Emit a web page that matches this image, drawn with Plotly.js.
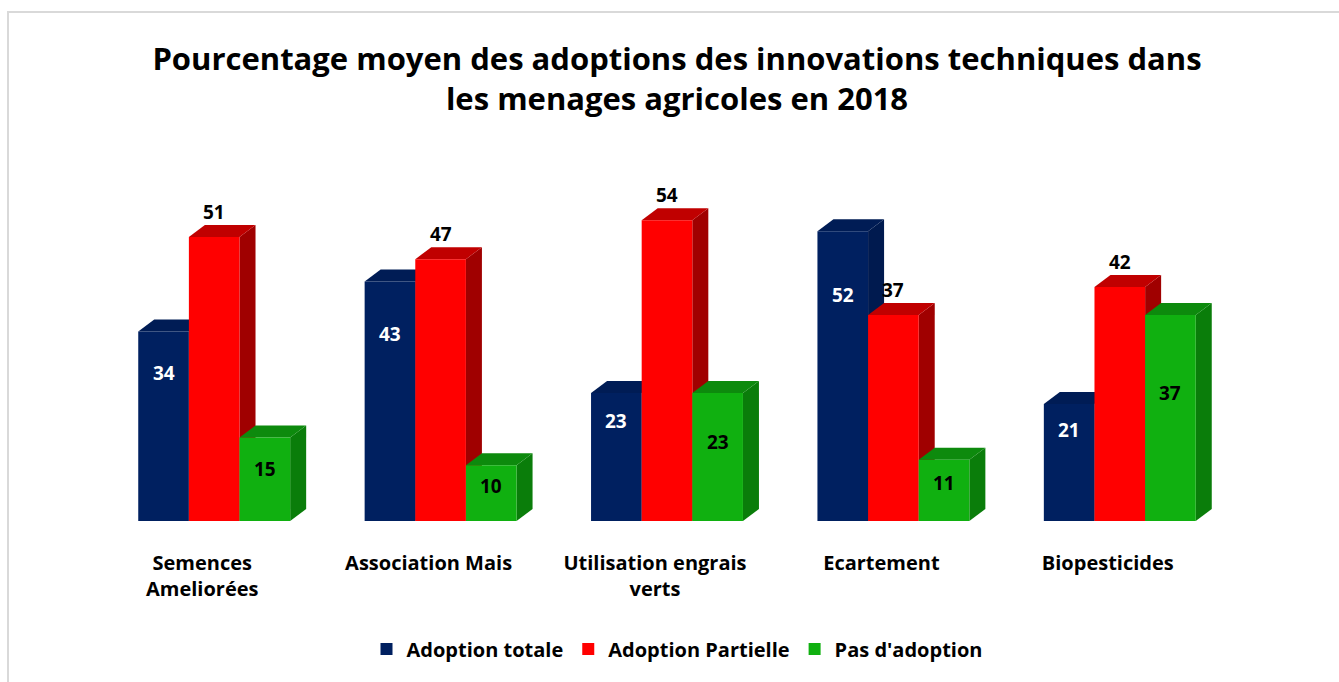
<!DOCTYPE html>
<html>
<head>
<meta charset="utf-8">
<script src="https://cdn.plot.ly/plotly-3.0.1.min.js"></script>
<style>html,body{margin:0;padding:0;background:#fff;}</style>
</head>
<body>
<div id="chart" style="width:1339px;height:682px;"></div>
<script>
const categories = ['Semences<br>Ameliorées', 'Association Mais', 'Utilisation engrais<br>verts', 'Ecartement', 'Biopesticides'];
const seriesNames = ['Adoption totale', 'Adoption Partielle', "Pas d'adoption"];
const adoptionTotale = [34, 43, 23, 52, 21];
const adoptionPartielle = [51, 47, 54, 37, 42];
const pasAdoption = [15, 10, 23, 11, 37];

const seriesValues = [adoptionTotale, adoptionPartielle, pasAdoption];
const frontColors = ['#002060', '#ff0000', '#10b010'];
const sideColors = ['#001a4f', '#a00000', '#0a7d0a'];
const topColors = ['#001c55', '#c00000', '#0d8a0d'];
const labelColors = ['#ffffff', '#000000', '#000000'];

const FONT = '"Open Sans", Lato, sans-serif';
const W = 1339, H = 682;
const margin = {l: 101, r: 106, t: 150, b: 161, pad: 0};
const yMax = 66.6;
const bargap = 0.329;
const xIdx = categories.map((_, i) => i);

const plotW = W - margin.l - margin.r;
const plotH = H - margin.t - margin.b;
const pxPerX = plotW / categories.length;
const pxPerY = plotH / yMax;
const dx = 16 / pxPerX;
const dy = 12 / pxPerY;
const barW = (1 - bargap) / seriesValues.length;

const traces = seriesValues.map((vals, s) => ({
  type: 'bar',
  name: seriesNames[s],
  x: xIdx,
  y: vals,
  marker: {color: frontColors[s], line: {width: 0}},
  hoverinfo: 'y+name'
}));

const shapes = [];
const annotations = [];
xIdx.forEach(i => {
  seriesValues.forEach((vals, s) => {
    const h = vals[i];
    const xc = i + (s - 1) * barW;
    const x0 = xc - barW / 2, x1 = xc + barW / 2;
    shapes.push({
      type: 'path', xref: 'x', yref: 'y', layer: 'below',
      path: `M ${x1},0 L ${x1 + dx},${dy} L ${x1 + dx},${h + dy} L ${x1},${h} Z`,
      fillcolor: sideColors[s], line: {width: 0}
    });
    shapes.push({
      type: 'path', xref: 'x', yref: 'y', layer: 'below',
      path: `M ${x0},${h} L ${x1},${h} L ${x1 + dx},${h + dy} L ${x0 + dx},${h + dy} Z`,
      fillcolor: topColors[s], line: {width: 0}
    });
    let ann = {
      x: xc, xref: 'x', yref: 'y', text: String(h), showarrow: false,
      font: {family: FONT, size: 19, color: labelColors[s], weight: 700},
      xanchor: 'center', yanchor: 'middle'
    };
    if (s === 1) { ann.y = h; ann.yshift = 25; }
    else if (s === 0) { ann.y = h * 0.78; }
    else { ann.y = h * 0.62; }
    annotations.push(ann);
  });
});

// outer chart border
shapes.push({
  type: 'rect', xref: 'paper', yref: 'paper',
  x0: (8 - margin.l) / plotW, x1: (1345 - margin.l) / plotW,
  y0: -(H + 10 - plotH - margin.t) / plotH, y1: 1 + (margin.t - 12) / plotH,
  line: {color: '#d9d9d9', width: 2}, fillcolor: 'rgba(0,0,0,0)', layer: 'below'
});

const layout = {
  width: W, height: H,
  margin: margin,
  paper_bgcolor: '#ffffff',
  plot_bgcolor: 'rgba(0,0,0,0)',
  barmode: 'group',
  bargap: bargap,
  bargroupgap: 0,
  font: {family: FONT, color: '#000000'},
  title: {
    text: 'Pourcentage moyen des adoptions des innovations techniques dans<br>les menages agricoles en 2018',
    font: {family: FONT, size: 31, color: '#000000', weight: 700},
    xref: 'container', x: 677 / W, xanchor: 'center',
    yref: 'container', y: 1 - 70 / H, yanchor: 'top'
  },
  xaxis: {
    range: [-0.5, categories.length - 0.5],
    tickvals: xIdx,
    ticktext: categories,
    ticks: 'outside', ticklen: 24, tickcolor: 'rgba(0,0,0,0)',
    tickfont: {family: FONT, size: 20, color: '#000000', weight: 700},
    ticklabelshift: -12,
    showgrid: false, zeroline: false, showline: false, fixedrange: true
  },
  yaxis: {
    range: [0, yMax], visible: false, showgrid: false, zeroline: false, fixedrange: true
  },
  showlegend: true,
  legend: {
    orientation: 'h', x: (677 - margin.l) / plotW, xanchor: 'center',
    y: -(649 - margin.t - plotH) / plotH, yanchor: 'middle',
    font: {family: FONT, size: 20, color: '#000000', weight: 700},
    itemwidth: 30,
    bgcolor: 'rgba(0,0,0,0)'
  },
  shapes: shapes,
  annotations: annotations
};

Plotly.newPlot('chart', traces, layout, {displayModeBar: false, responsive: false});
</script>
</body>
</html>
